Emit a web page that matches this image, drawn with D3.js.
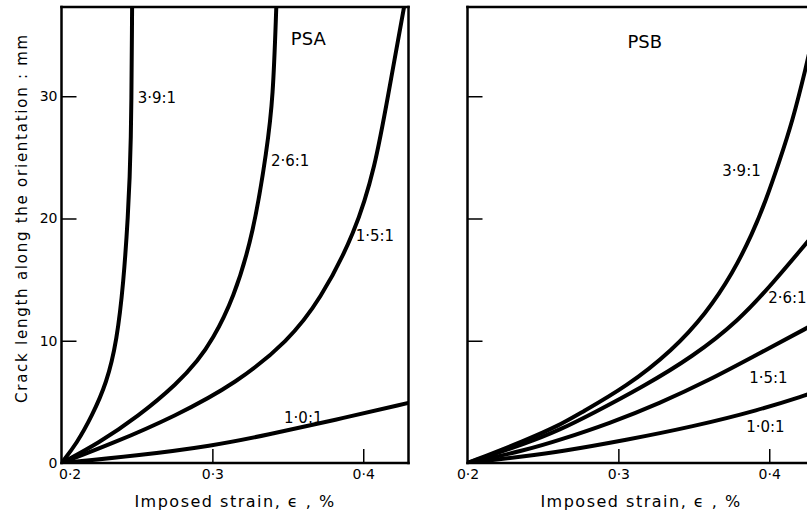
<!DOCTYPE html>
<html lang="en">
<head>
    <meta charset="UTF-8">
    <title>Crack length vs imposed strain</title>
    <style>
        body { margin: 0; background: #fff; }
        svg { display: block; font-family: 'DejaVu Sans', sans-serif; }
    </style>
</head>
<body>
<svg id="svgId"></svg>
<script src="https://cdnjs.cloudflare.com/ajax/libs/d3/7.8.5/d3.min.js"></script>
<script>

    // Curves: [imposed strain %, crack length mm]
    // PSA panel
    const psa39 = [[0.2, 0], [0.2101, 1.6], [0.2200, 3.8], [0.2300, 6.55], [0.2367, 10], [0.2411, 14.75],
        [0.2440, 20], [0.2462, 25.7], [0.2468, 37.4]]
    const psa26 = [[0.2, 0], [0.2242, 1.6], [0.2508, 3.8], [0.2773, 6.55], [0.2905, 8.4], [0.2997, 10],
        [0.3140, 13.4], [0.3274, 18.85], [0.3362, 25.7], [0.3402, 29.75], [0.3424, 37.4]]
    const psa15 = [[0.2, 0], [0.2339, 1.6], [0.2749, 3.8], [0.3163, 6.55], [0.3504, 10], [0.3713, 13.3],
        [0.3948, 18.85], [0.4080, 24.3], [0.4160, 29.75], [0.4272, 37.4]]
    const psa10 = [[0.2, 0], [0.25, 0.6], [0.3, 1.4], [0.3363, 2.3], [0.3806, 3.5], [0.431, 4.95]]

    // PSB panel
    const psb39 = [[0.2, 0], [0.2391, 1.88], [0.2611, 3.1], [0.2744, 4.06], [0.3052, 6.23], [0.3360, 9.23],
        [0.3581, 12.23], [0.3757, 15.5], [0.3889, 18.77], [0.3978, 21.49], [0.4065, 24.6], [0.4153, 27.9],
        [0.4244, 32.38], [0.4300, 35.4]]
    const psb26 = [[0.2, 0], [0.2391, 1.61], [0.2611, 2.7], [0.2831, 4.06], [0.3162, 6.23], [0.3492, 8.68],
        [0.3801, 11.68], [0.4021, 14.68], [0.4244, 17.95], [0.4300, 18.8]]
    const psb15 = [[0.2, 0], [0.2391, 1.06], [0.2611, 1.88], [0.2942, 3.24], [0.3272, 4.88], [0.3603, 6.78],
        [0.3933, 8.96], [0.4244, 11.0], [0.4300, 11.4]]
    const psb10 = [[0.2, 0], [0.2391, 0.57], [0.2611, 0.92], [0.3052, 1.88], [0.3492, 2.97], [0.3933, 4.33],
        [0.4244, 5.56], [0.4300, 5.8]]

    const ratios = ['3·9:1', '2·6:1', '1·5:1', '1·0:1']
    const panelNames = ['PSA', 'PSB']
    const xTicks = [0.2, 0.3, 0.4]
    const yTicks = [0, 10, 20, 30]
    const xTitle = 'Imposed strain, ϵ , %'
    const yTitle = 'Crack length along the orientation : mm'

    // Svg dimensions
    const svgWidth = 807
    const svgHeight = 518
    const plotTop = 7
    const plotBottom = 463
    const panelWidth = 347
    const xDomain = [0.2, 0.43]
    const yDomain = [0, 37.3]

    const svg = d3.select('#svgId')
        .attr('width', svgWidth)
        .attr('height', svgHeight)

    const fmt = d => d3.format('.1f')(d).replace('.', '·')

    // label anchors in data units (left edge / vertical middle of text)
    const panels = [
        {id: 'psa', left: 61.5, series: [psa39, psa26, psa15, psa10], yLabels: true, rightBorder: true,
            labelAt: [[0.2505, 29.9], [0.3388, 24.7], [0.3950, 18.6], [0.3475, 3.7]], nameAt: [0.3520, 34.7]},
        {id: 'psb', left: 467.5, series: [psb39, psb26, psb15, psb10], yLabels: false, rightBorder: false,
            labelAt: [[0.3689, 23.9], [0.3993, 13.5], [0.3867, 7.0], [0.3847, 3.0]], nameAt: [0.3060, 34.5]}
    ]

    panels.forEach((p, i) => {
        const right = p.left + panelWidth
        const xScale = d3.scaleLinear().domain(xDomain).range([p.left, right])
        const yScale = d3.scaleLinear().domain(yDomain).range([plotBottom, plotTop])
        const line = d3.line()
            .x(d => xScale(d[0]))
            .y(d => yScale(d[1]))
            .curve(d3.curveBasis)

        const g = svg.append('g').attr('id', p.id + 'Id')

        g.append('clipPath')
            .attr('id', p.id + 'Clip')
            .append('rect')
            .attr('x', p.left)
            .attr('y', plotTop)
            .attr('width', panelWidth)
            .attr('height', plotBottom - plotTop)

        // curves
        g.append('g')
            .attr('clip-path', `url(#${p.id}Clip)`)
            .selectAll('path')
            .data(p.series).enter()
            .append('path')
            .attr('fill', 'none')
            .attr('stroke', '#000')
            .attr('stroke-width', 4)
            .attr('stroke-linecap', 'round')
            .attr('d', line)

        // axes with inward ticks
        const xAxis = g.append('g')
            .attr('transform', `translate(0, ${plotBottom})`)
            .call(d3.axisBottom(xScale).tickValues(xTicks).tickSizeInner(-14).tickSizeOuter(0)
                .tickPadding(6).tickFormat(fmt))
        const yAxis = g.append('g')
            .attr('transform', `translate(${p.left}, 0)`)
            .call(d3.axisLeft(yScale).tickValues(p.yLabels ? yTicks : yTicks.slice(1))
                .tickSizeInner(-15).tickSizeOuter(0).tickPadding(4)
                .tickFormat(p.yLabels ? (d => d) : ''))

        ;[xAxis, yAxis].forEach(a => {
            a.select('.domain').remove()
            a.attr('font-family', null).attr('font-size', null)
            a.selectAll('line').attr('stroke', '#000').attr('stroke-width', 1.5)
            a.selectAll('text').attr('fill', '#000').style('font-size', '14px')
        })
        xAxis.selectAll('.tick').filter(d => d === 0.2).select('line').remove()
        yAxis.selectAll('.tick').filter(d => d === 0).select('line').remove()
        if (p.yLabels) {
            xAxis.selectAll('.tick').filter(d => d === 0.2).select('text')
                .attr('text-anchor', 'start').attr('x', -3)
        }

        // frame
        const frame = [[p.left, plotTop, p.left, plotBottom], [p.left, plotBottom, right, plotBottom],
            [p.left, plotTop, right, plotTop]]
        if (p.rightBorder) frame.push([right, plotTop, right, plotBottom])
        g.selectAll('.frame')
            .data(frame).enter()
            .append('line')
            .attr('class', 'frame')
            .attr('x1', d => d[0]).attr('y1', d => d[1])
            .attr('x2', d => d[2]).attr('y2', d => d[3])
            .attr('stroke', '#000')
            .attr('stroke-width', 2.5)
            .attr('stroke-linecap', 'square')

        // curve labels
        g.selectAll('.ratio')
            .data(ratios).enter()
            .append('text')
            .attr('class', 'ratio')
            .attr('x', (d, k) => xScale(p.labelAt[k][0]))
            .attr('y', (d, k) => yScale(p.labelAt[k][1]))
            .attr('dy', '0.36em')
            .style('font-size', '15px')
            .text(d => d)

        g.append('text')
            .attr('x', xScale(p.nameAt[0]))
            .attr('y', yScale(p.nameAt[1]))
            .attr('dy', '0.36em')
            .style('font-size', '18px')
            .text(panelNames[i])

        // x title
        g.append('text')
            .attr('x', p.left + panelWidth / 2)
            .attr('y', 507)
            .attr('text-anchor', 'middle')
            .style('font-size', '16px')
            .style('letter-spacing', '1.5px')
            .text(xTitle)
    })

    // y title
    svg.append('text')
        .attr('transform', 'translate(27, 218) rotate(-90)')
        .attr('text-anchor', 'middle')
        .style('font-size', '15px')
        .style('letter-spacing', '1.75px')
        .text(yTitle)

</script>
</body>
</html>
